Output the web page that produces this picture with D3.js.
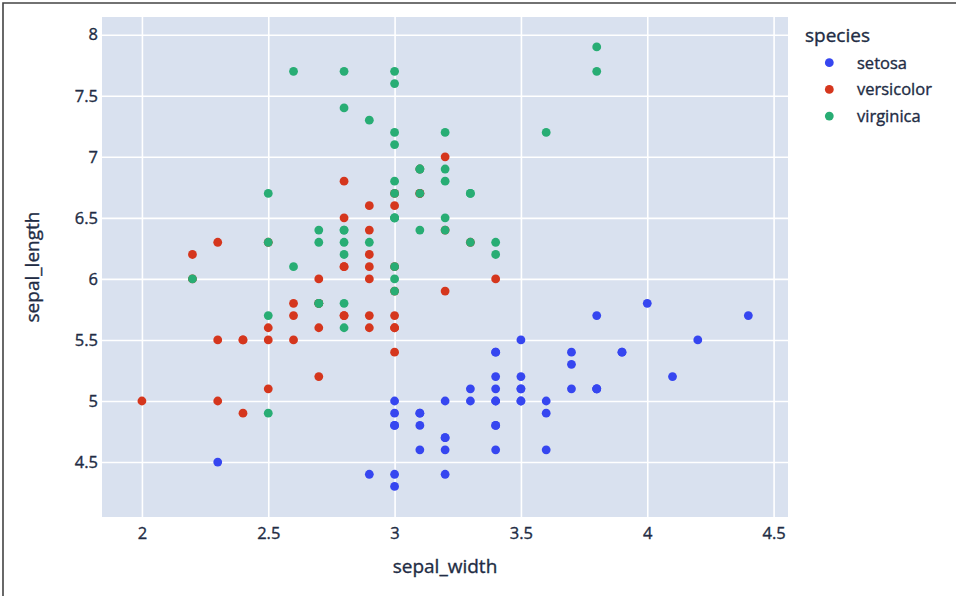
<!DOCTYPE html>
<html>
<head>
<meta charset="utf-8">
<script src="https://cdn.jsdelivr.net/npm/d3@7"></script>
<style>
  html, body { margin: 0; padding: 0; background: #fff; }
  svg { display: block; font-family: "Open Sans", "Noto Sans", sans-serif; }
  svg text { stroke: #222c44; stroke-width: 0.35px; }
</style>
</head>
<body>
<svg id="chart" width="956" height="596"></svg>
<script>
const species = ["setosa", "versicolor", "virginica"];
const xTicks = [2, 2.5, 3, 3.5, 4, 4.5];
const yTicks = [4.5, 5, 5.5, 6, 6.5, 7, 7.5, 8];
const xTitle = "sepal_width";
const yTitle = "sepal_length";
const legendTitle = "species";

const setosaLength = [5.1,4.9,4.7,4.6,5.0,5.4,4.6,5.0,4.4,4.9,5.4,4.8,4.8,4.3,5.8,5.7,5.4,5.1,5.7,5.1,5.4,5.1,4.6,5.1,4.8,5.0,5.0,5.2,5.2,4.7,4.8,5.4,5.2,5.5,4.9,5.0,5.5,4.9,4.4,5.1,5.0,4.5,4.4,5.0,5.1,4.8,5.1,4.6,5.3,5.0];
const setosaWidth  = [3.5,3.0,3.2,3.1,3.6,3.9,3.4,3.4,2.9,3.1,3.7,3.4,3.0,3.0,4.0,4.4,3.9,3.5,3.8,3.8,3.4,3.7,3.6,3.3,3.4,3.0,3.4,3.5,3.4,3.2,3.1,3.4,4.1,4.2,3.1,3.2,3.5,3.6,3.0,3.4,3.5,2.3,3.2,3.5,3.8,3.0,3.8,3.2,3.7,3.3];

const versicolorLength = [7.0,6.4,6.9,5.5,6.5,5.7,6.3,4.9,6.6,5.2,5.0,5.9,6.0,6.1,5.6,6.7,5.6,5.8,6.2,5.6,5.9,6.1,6.3,6.1,6.4,6.6,6.8,6.7,6.0,5.7,5.5,5.5,5.8,6.0,5.4,6.0,6.7,6.3,5.6,5.5,5.5,6.1,5.8,5.0,5.6,5.7,5.7,6.2,5.1,5.7];
const versicolorWidth  = [3.2,3.2,3.1,2.3,2.8,2.8,3.3,2.4,2.9,2.7,2.0,3.0,2.2,2.9,2.9,3.1,3.0,2.7,2.2,2.5,3.2,2.8,2.5,2.8,2.9,3.0,2.8,3.0,2.9,2.6,2.4,2.4,2.7,2.7,3.0,3.4,3.1,2.3,3.0,2.5,2.6,3.0,2.6,2.3,2.7,3.0,2.9,2.9,2.5,2.8];

const virginicaLength = [6.3,5.8,7.1,6.3,6.5,7.6,4.9,7.3,6.7,7.2,6.5,6.4,6.8,5.7,5.8,6.4,6.5,7.7,7.7,6.0,6.9,5.6,7.7,6.3,6.7,7.2,6.2,6.1,6.4,7.2,7.4,7.9,6.4,6.3,6.1,7.7,6.3,6.4,6.0,6.9,6.7,6.9,5.8,6.8,6.7,6.7,6.3,6.5,6.2,5.9];
const virginicaWidth  = [3.3,2.7,3.0,2.9,3.0,3.0,2.5,2.9,2.5,3.6,3.2,2.7,3.0,2.5,2.8,3.2,3.0,3.8,2.6,2.2,3.2,2.8,2.8,2.7,3.3,3.2,2.8,3.0,2.8,3.0,2.8,3.8,2.8,2.8,2.6,3.0,3.4,3.1,3.0,3.1,3.1,3.1,2.7,3.2,3.3,3.0,2.5,3.0,3.4,3.0];

const seriesWidth = [setosaWidth, versicolorWidth, virginicaWidth];
const seriesLength = [setosaLength, versicolorLength, virginicaLength];
const colors = ["#3646f0", "#d5361d", "#28ad74"];

const textColor = "#222c44";
const svg = d3.select("#chart");

// frame of the screenshot
svg.append("path")
  .attr("d", "M3,596 V3 H956")
  .attr("fill", "none").attr("stroke", "#444").attr("stroke-width", 1.6);

const plot = { left: 102, right: 788, top: 17, bottom: 517 };
const x = d3.scaleLinear().domain([1.842, 4.557]).range([plot.left, plot.right]);
const y = d3.scaleLinear().domain([4.05, 8.145]).range([plot.bottom, plot.top]);

svg.append("rect")
  .attr("x", plot.left).attr("y", plot.top)
  .attr("width", plot.right - plot.left).attr("height", plot.bottom - plot.top)
  .attr("fill", "#d9e1ef");

// grid lines via axes
const xGrid = svg.append("g").attr("transform", `translate(0,${plot.bottom})`)
  .call(d3.axisBottom(x).tickValues(xTicks).tickSize(-(plot.bottom - plot.top)).tickFormat(""));
xGrid.select(".domain").remove();
xGrid.selectAll("line").attr("stroke", "#fff").attr("stroke-width", 1.6);

const yGrid = svg.append("g").attr("transform", `translate(${plot.left},0)`)
  .call(d3.axisLeft(y).tickValues(yTicks).tickSize(-(plot.right - plot.left)).tickFormat(""));
yGrid.select(".domain").remove();
yGrid.selectAll("line").attr("stroke", "#fff").attr("stroke-width", 1.6);

// tick labels
const xAxis = svg.append("g").attr("transform", `translate(0,${plot.bottom})`)
  .call(d3.axisBottom(x).tickValues(xTicks).tickSize(0).tickPadding(6).tickFormat(d3.format("~g")));
xAxis.select(".domain").remove();
xAxis.selectAll("text").attr("font-size", 16.5).attr("fill", textColor)
  .attr("font-family", "'Open Sans', sans-serif").attr("dy", "0.95em");

const yAxis = svg.append("g").attr("transform", `translate(${plot.left},0)`)
  .call(d3.axisLeft(y).tickValues(yTicks).tickSize(0).tickPadding(4).tickFormat(d3.format("~g")));
yAxis.select(".domain").remove();
yAxis.selectAll("text").attr("font-size", 16.5).attr("fill", textColor)
  .attr("font-family", "'Open Sans', sans-serif");

// points
species.forEach((s, i) => {
  const pts = seriesWidth[i].map((w, j) => ({ w, l: seriesLength[i][j] }));
  svg.append("g").selectAll("circle").data(pts).join("circle")
    .attr("cx", d => x(d.w)).attr("cy", d => y(d.l)).attr("r", 4.4)
    .attr("fill", colors[i]);
});

// axis titles
svg.append("text").attr("x", (plot.left + plot.right) / 2).attr("y", 573)
  .attr("text-anchor", "middle").attr("font-size", 19).attr("fill", textColor)
  .text(xTitle);
svg.append("text").attr("transform", `translate(39,${(plot.top + plot.bottom) / 2}) rotate(-90)`)
  .attr("text-anchor", "middle").attr("font-size", 19).attr("fill", textColor)
  .text(yTitle);

// legend
svg.append("text").attr("x", 805).attr("y", 42).attr("font-size", 19).attr("fill", textColor)
  .text(legendTitle);
const leg = svg.append("g");
species.forEach((s, i) => {
  const cy = 62.7 + i * 26.7;
  leg.append("circle").attr("cx", 829.3).attr("cy", cy).attr("r", 4.4).attr("fill", colors[i]);
  leg.append("text").attr("x", 857).attr("y", cy + 6).attr("font-size", 16.5).attr("fill", textColor).text(s);
});
</script>
</body>
</html>
